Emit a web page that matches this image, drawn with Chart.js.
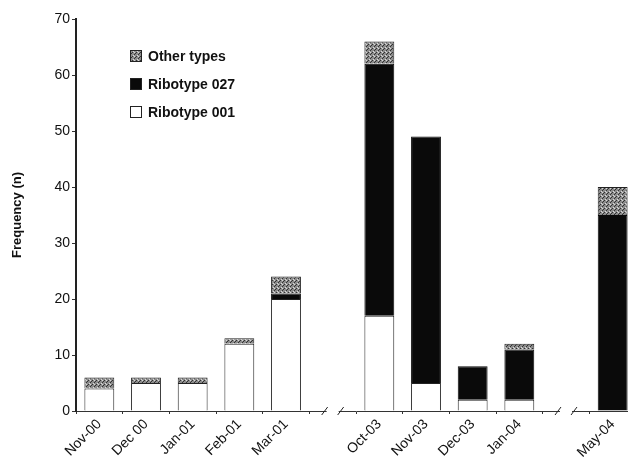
<!DOCTYPE html>
<html>
<head>
<meta charset="utf-8">
<script src="https://cdn.jsdelivr.net/npm/chart.js@4.4.1/dist/chart.umd.min.js"></script>
<style>
  html, body { margin: 0; padding: 0; background: #fff; overflow: hidden; }
  #wrap { width: 636px; height: 461px; position: relative; }
</style>
</head>
<body>
<div id="wrap"><canvas id="chart"></canvas></div>
<script>
// categories ('' = axis break slot)
const months = ['Nov-00', 'Dec 00', 'Jan-01', 'Feb-01', 'Mar-01', '', 'Oct-03', 'Nov-03', 'Dec-03', 'Jan-04', '', 'May-04'];
const ribotype001 = [4, 5, 5, 12, 20, null, 17, 5, 2, 2, null, 0];
const ribotype027 = [0, 0, 0, 0, 1, null, 45, 44, 6, 9, null, 35];
const otherTypes = [2, 1, 1, 1, 3, null, 4, 0, 0, 1, null, 5];
const breakSlots = [5, 10];
const yTicks = [0, 10, 20, 30, 40, 50, 60, 70];

// speckled grey fill for "Other types"
function makeSpeckle() {
    const c = document.createElement('canvas');
    c.width = 4; c.height = 4;
    const g = c.getContext('2d');
    g.fillStyle = '#8c8c8c';
    g.fillRect(0, 0, 4, 4);
    g.fillStyle = '#333';
    g.fillRect(0, 0, 1, 1);
    g.fillRect(2, 2, 1, 1);
    g.fillRect(3, 1, 1, 1);
    g.fillStyle = '#d8d8d8';
    g.fillRect(1, 3, 1, 1);
    g.fillRect(2, 0, 1, 1);
    return g.createPattern(c, 'repeat');
}
const speckle = makeSpeckle();

// legend drawn inside the plot, top-left
const insideLegend = {
    id: 'insideLegend',
    afterDraw(chart) {
        const ctx = chart.ctx;
        const area = chart.chartArea;
        const items = chart.data.datasets.slice().reverse();
        ctx.save();
        ctx.font = 'bold 14px "Liberation Sans", Arial, sans-serif';
        ctx.textBaseline = 'middle';
        items.forEach((ds, i) => {
            const x = area.left + 54;
            const y = area.top + 37 + i * 28;
            ctx.fillStyle = ds.backgroundColor;
            ctx.fillRect(x, y - 6, 12, 12);
            ctx.strokeStyle = '#222';
            ctx.lineWidth = 1;
            ctx.strokeRect(x + 0.5, y - 5.5, 11, 11);
            ctx.fillStyle = '#111';
            ctx.fillText(ds.label, x + 18, y + 1);
        });
        ctx.restore();
    }
};

// "/ /" marks where the time axis is broken
const axisBreaks = {
    id: 'axisBreaks',
    afterDraw(chart) {
        const ctx = chart.ctx;
        const xs = chart.scales.x;
        const y0 = chart.scales.y.getPixelForValue(0);
        ctx.save();
        ctx.strokeStyle = '#222';
        ctx.lineWidth = 1;
        breakSlots.forEach(idx => {
            const cx = xs.getPixelForValue(idx);
            ctx.fillStyle = '#fff';
            ctx.fillRect(cx - 6, y0 - 2, 12, 4);
            [-8, 8].forEach(d => {
                ctx.beginPath();
                ctx.moveTo(cx + d - 3, y0 + 4);
                ctx.lineTo(cx + d + 3, y0 - 4);
                ctx.stroke();
            });
        });
        ctx.restore();
    }
};

new Chart(document.getElementById('chart'), {
    type: 'bar',
    data: {
        labels: months,
        datasets: [
            { label: 'Ribotype 001', data: ribotype001, backgroundColor: '#ffffff', borderColor: '#222', borderWidth: 1 },
            { label: 'Ribotype 027', data: ribotype027, backgroundColor: '#0a0a0a', borderColor: '#0a0a0a', borderWidth: 1 },
            { label: 'Other types', data: otherTypes, backgroundColor: speckle, borderColor: '#222', borderWidth: 1 }
        ]
    },
    options: {
        responsive: true,
        maintainAspectRatio: false,
        animation: false,
        layout: { padding: { top: 19, right: 0, left: 0, bottom: 0 } },
        datasets: { bar: { barPercentage: 0.64, categoryPercentage: 1 } },
        plugins: {
            legend: { display: false },
            tooltip: { enabled: false }
        },
        scales: {
            x: {
                stacked: true,
                offset: true,
                grid: { display: true, drawOnChartArea: false, offset: true, tickLength: 3, color: '#333' },
                border: { color: '#333', width: 1 },
                ticks: {
                    autoSkip: false,
                    maxRotation: 45,
                    minRotation: 45,
                    color: '#111',
                    padding: 2,
                    font: { family: '"Liberation Sans", Arial, sans-serif', size: 14 }
                },
                afterFit(scale) { scale.height = 50; }
            },
            y: {
                stacked: true,
                min: 0,
                max: 70,
                afterBuildTicks(scale) { scale.ticks = yTicks.map(v => ({ value: v })); },
                grid: { display: true, drawOnChartArea: false, tickLength: 4, color: '#333' },
                border: { color: '#222', width: 2 },
                ticks: {
                    color: '#111',
                    padding: 2,
                    font: { family: '"Liberation Sans", Arial, sans-serif', size: 14 }
                },
                title: {
                    display: true,
                    text: 'Frequency (n)',
                    color: '#111',
                    padding: { top: 10, bottom: 4 },
                    font: { family: '"Liberation Sans", Arial, sans-serif', size: 13, weight: 'bold' }
                },
                afterFit(scale) { scale.width = 76; }
            }
        }
    },
    plugins: [insideLegend, axisBreaks]
});
</script>
</body>
</html>
